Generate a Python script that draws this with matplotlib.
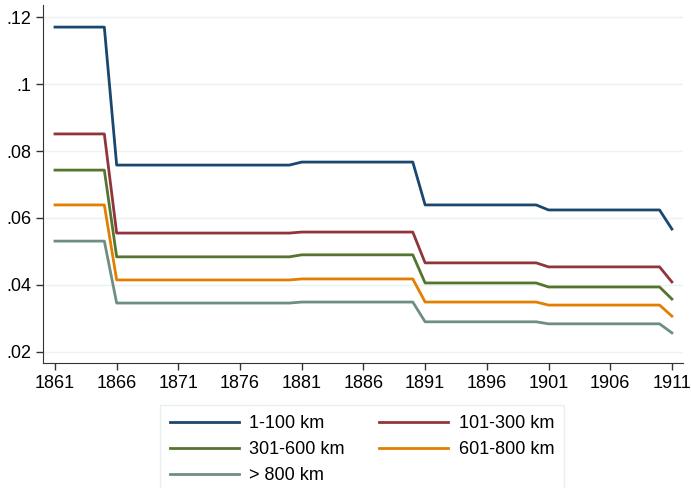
import matplotlib.pyplot as plt

plt.rcParams['font.family'] = ['Liberation Sans', 'DejaVu Sans']

years = list(range(1861, 1912))

# probability by distance band, constant within periods
km_1_100 = [0.1170] * 5 + [0.0758] * 15 + [0.0767] * 10 + [0.0639] * 10 + [0.0624] * 10 + [0.0567]
km_101_300 = [0.0851] * 5 + [0.0555] * 15 + [0.0558] * 10 + [0.0466] * 10 + [0.0454] * 10 + [0.0409]
km_301_600 = [0.0743] * 5 + [0.0484] * 15 + [0.0490] * 10 + [0.0406] * 10 + [0.0394] * 10 + [0.0358]
km_601_800 = [0.0639] * 5 + [0.0415] * 15 + [0.0418] * 10 + [0.0349] * 10 + [0.0340] * 10 + [0.0307]
km_800_plus = [0.0531] * 5 + [0.0346] * 15 + [0.0349] * 10 + [0.0290] * 10 + [0.0284] * 10 + [0.0257]

labels = ['1-100 km', '101-300 km', '301-600 km', '601-800 km', '> 800 km']
colors = ['#1a476f', '#90353b', '#55752f', '#e37e00', '#6e8e84']
series = [km_1_100, km_101_300, km_301_600, km_601_800, km_800_plus]

fig = plt.figure(figsize=(6.91, 4.88), dpi=100)
ax = fig.add_axes([43 / 691, 1 - 363 / 488, 640 / 691, 358 / 488])

lines = []
for s, c, lab in zip(series, colors, labels):
    ln, = ax.plot(years, s, color=c, lw=2, label=lab)
    lines.append(ln)

ax.set_xlim(1860.03, 1911.9)
ax.set_ylim(0.0167, 0.1236)
ax.set_xticks(range(1861, 1912, 5))
yt = [0.02, 0.04, 0.06, 0.08, 0.1, 0.12]
ax.set_yticks(yt)
ax.set_yticklabels(['.02', '.04', '.06', '.08', '.1', '.12'])
ax.tick_params(labelsize=13, length=5, color='#333333', width=1)
ax.yaxis.grid(True, color='#eaf2f3', lw=1)
ax.set_axisbelow(True)
for sp in ['top', 'right']:
    ax.spines[sp].set_visible(False)
for sp in ['left', 'bottom']:
    ax.spines[sp].set_color('#333333')

order = [0, 2, 4, 1, 3]
leg = fig.legend([lines[i] for i in order], [labels[i] for i in order],
                 ncol=2, loc='upper left', bbox_to_anchor=(160 / 691, 1 - 405 / 488),
                 borderaxespad=0, fontsize=13, handlelength=3.8, handletextpad=0.6,
                 columnspacing=1.9, labelspacing=0.5, borderpad=0.55,
                 fancybox=False, frameon=True)
leg.get_frame().set_edgecolor('#e3ecee')
leg.get_frame().set_linewidth(1)

fig.savefig('out.png', dpi=100)
